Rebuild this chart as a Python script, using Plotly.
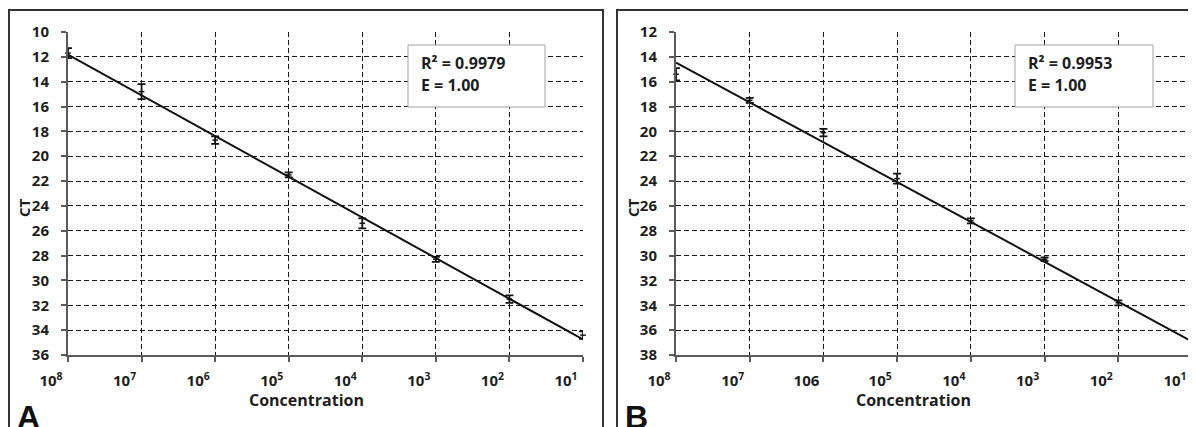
import numpy as np
import plotly.graph_objects as go

# page body adds an 8px offset; figure sized so that it ends at the window edge
OFF = 8
W, H = 1196 - OFF, 427 - OFF

# ---------------- data ----------------
exponents = [8, 7, 6, 5, 4, 3, 2, 1]
labels_a = ["10<sup>8</sup>", "10<sup>7</sup>", "10<sup>6</sup>", "10<sup>5</sup>",
            "10<sup>4</sup>", "10<sup>3</sup>", "10<sup>2</sup>", "10<sup>1</sup>"]
labels_b = ["10<sup>8</sup>", "10<sup>7</sup>", "106", "10<sup>5</sup>",
            "10<sup>4</sup>", "10<sup>3</sup>", "10<sup>2</sup>", "10<sup>1</sup>"]
ct_a = [11.7, 14.8, 18.7, 21.5, 25.4, 28.3, 31.5, 34.4]
err_a = [0.4, 0.6, 0.3, 0.2, 0.4, 0.2, 0.3, 0.3]
ct_b = [15.4, 17.5, 20.1, 23.8, 27.2, 30.3, 33.8, 37.4]
err_b = [0.5, 0.2, 0.3, 0.4, 0.2, 0.15, 0.2, 0.3]
r2_a, r2_b = "0.9979", "0.9953"
eff_a, eff_b = "1.00", "1.00"


def px(x):
    return (x - OFF) / W


def py(y):
    return 1 - (y - OFF) / H


FONT = "Open Sans"
TXT = "#1e1e1e"

fig = go.Figure()

panels = [
    dict(xa="x", ya="y", ct=ct_a, err=err_a, labels=labels_a, yr=[36, 10],
         dom=[px(68), px(583)], r2=r2_a, e=eff_a, box=(408, 545), letter="A",
         frame=(9, 603), ctx=24, titlex=306),
    dict(xa="x2", ya="y2", ct=ct_b, err=err_b, labels=labels_b, yr=[38, 12],
         dom=[px(676), px(1192)], r2=r2_b, e=eff_b, box=(1015, 1153), letter="B",
         frame=(617, 1195), ctx=633, titlex=913),
]

shapes = []
annotations = []
for i, p in enumerate(panels):
    xs = np.array(exponents, dtype=float)
    ys = np.array(p["ct"], dtype=float)
    slope, icpt = np.polyfit(xs, ys, 1)
    fit = slope * xs + icpt
    fig.add_trace(go.Scatter(
        x=exponents, y=list(fit), mode="lines",
        line=dict(color="#111111", width=2), xaxis=p["xa"], yaxis=p["ya"],
        showlegend=False, hoverinfo="skip"))
    fig.add_trace(go.Scatter(
        x=exponents, y=p["ct"], mode="markers",
        marker=dict(symbol="line-ew", size=4, color="#111111",
                    line=dict(color="#111111", width=1.5)),
        error_y=dict(type="data", array=p["err"], visible=True,
                     color="#111111", thickness=1.8, width=4),
        xaxis=p["xa"], yaxis=p["ya"], showlegend=False, cliponaxis=False))

    axis_common = dict(
        showline=True, linecolor="#5a5a5a", linewidth=2,
        showgrid=True, gridcolor="#1a1a1a", gridwidth=1.4, griddash="5px,3px",
        ticks="outside", ticklen=5, tickwidth=1.5, tickcolor="#5a5a5a",
        zeroline=False, automargin=False,
        tickfont=dict(family=FONT, size=15, color=TXT, weight="bold"),
    )
    xkey = "xaxis" if i == 0 else "xaxis2"
    ykey = "yaxis" if i == 0 else "yaxis2"
    fig.update_layout(**{
        xkey: dict(axis_common, domain=p["dom"], range=[8, 1],
                   anchor=p["ya"], tickmode="array", tickvals=exponents,
                   ticktext=p["labels"], ticklabelshift=17,
                   ticklabelstandoff=6),
        ykey: dict(axis_common, domain=[py(355), py(32)], range=p["yr"],
                   anchor=p["xa"], dtick=2, tick0=0, ticklabelstandoff=9),
    })

    # panel frame
    shapes.append(dict(type="rect", xref="paper", yref="paper",
                       x0=px(p["frame"][0]), x1=px(p["frame"][1]),
                       y0=py(440), y1=py(10),
                       line=dict(color="#333333", width=2), fillcolor="rgba(0,0,0,0)",
                       layer="below"))
    # R2 box
    shapes.append(dict(type="rect", xref="paper", yref="paper",
                       x0=px(p["box"][0]), x1=px(p["box"][1]),
                       y0=py(107), y1=py(45),
                       line=dict(color="#a0a0a0", width=1), fillcolor="white",
                       layer="above"))
    tx = p["box"][0] + 11
    annotations.append(dict(xref="paper", yref="paper", x=px(tx), y=py(63),
                            xanchor="left", yanchor="middle", showarrow=False,
                            text="R² = " + p["r2"],
                            font=dict(family=FONT, size=16, color=TXT, weight="bold")))
    annotations.append(dict(xref="paper", yref="paper", x=px(tx), y=py(85),
                            xanchor="left", yanchor="middle", showarrow=False,
                            text="E = " + p["e"],
                            font=dict(family=FONT, size=16, color=TXT, weight="bold")))
    # axis titles
    annotations.append(dict(xref="paper", yref="paper", x=px(p["titlex"]), y=py(400),
                            xanchor="center", yanchor="middle", showarrow=False,
                            text="Concentration",
                            font=dict(family=FONT, size=16, color=TXT, weight="bold")))
    annotations.append(dict(xref="paper", yref="paper", x=px(p["ctx"]), y=py(208),
                            xanchor="center", yanchor="middle", showarrow=False,
                            text="CT", textangle=-90,
                            font=dict(family=FONT, size=15, color=TXT, weight="bold")))
    # panel letter
    annotations.append(dict(xref="paper", yref="paper", x=px(p["frame"][0] + 6), y=py(397),
                            xanchor="left", yanchor="top", showarrow=False,
                            text=p["letter"],
                            font=dict(family="Liberation Sans", size=32, color="#111111",
                                      weight="bold")))

fig.update_layout(
    width=W, height=H, margin=dict(l=0, r=0, t=0, b=0, pad=0, autoexpand=False),
    paper_bgcolor="white", plot_bgcolor="white",
    shapes=shapes, annotations=annotations, showlegend=False,
)

fig.write_html("out.html")
